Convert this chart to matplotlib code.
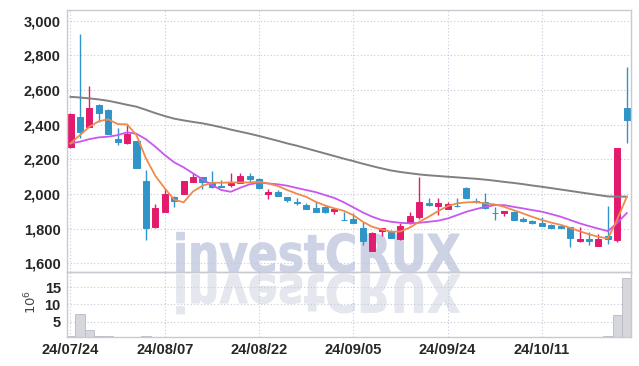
import numpy as np
import matplotlib
matplotlib.use('Agg')
import matplotlib.pyplot as plt
from matplotlib.ticker import FuncFormatter
from matplotlib.textpath import TextPath
from matplotlib.patches import PathPatch
from matplotlib.path import Path
from matplotlib.font_manager import FontProperties

# daily candles, 60 trading days from 24/07/24
opens = [2273, 2442, 2388, 2513, 2485, 2316, 2292, 2306, 2075, 1807,
         1894, 1984, 1998, 2071, 2096, 2067, 2047, 2053, 2061, 2104,
         2085, 2001, 2011, 1982, 1952, 1936, 1919, 1923, 1900, 1852,
         1854, 1802, 1671, 1788, 1786, 1738, 1830, 1869, 1950, 1932,
         1915, 1932, 2036, 1959, 1956, 1893, 1888, 1898, 1856, 1846,
         1834, 1821, 1818, 1807, 1730, 1738, 1701, 1757, 1734, 2498]
highs = [2465, 2921, 2625, 2518, 2492, 2379, 2406, 2306, 2136, 1940,
         2027, 1990, 2075, 2119, 2100, 2132, 2081, 2119, 2123, 2123,
         2094, 2027, 2024, 1985, 1975, 1946, 1952, 1930, 1919, 1894,
         1892, 1840, 1780, 1805, 1792, 1834, 1896, 2100, 1979, 1975,
         1955, 1975, 2042, 1975, 2004, 1923, 1902, 1902, 1867, 1850,
         1869, 1825, 1822, 1810, 1807, 1782, 1769, 1930, 2265, 2731]
lows = [2263, 2321, 2385, 2417, 2346, 2283, 2290, 2152, 1734, 1805,
        1894, 1923, 1998, 2068, 2027, 2035, 2040, 2042, 2061, 2071,
        2030, 1971, 1988, 1952, 1938, 1913, 1896, 1888, 1886, 1848,
        1832, 1705, 1669, 1759, 1746, 1736, 1826, 1855, 1933, 1879,
        1913, 1928, 1977, 1950, 1915, 1850, 1875, 1848, 1840, 1829,
        1815, 1803, 1803, 1692, 1725, 1703, 1698, 1709, 1725, 2292]
closes = [2460, 2356, 2494, 2469, 2346, 2302, 2344, 2152, 1805, 1917,
          1998, 1961, 2075, 2096, 2071, 2040, 2042, 2065, 2104, 2085,
          2033, 2013, 1990, 1967, 1948, 1915, 1898, 1898, 1911, 1848,
          1834, 1730, 1776, 1802, 1748, 1815, 1873, 1953, 1935, 1946,
          1942, 1929, 1979, 1952, 1917, 1891, 1902, 1850, 1845, 1831,
          1817, 1806, 1806, 1746, 1738, 1728, 1742, 1742, 2263, 2427]

# volume in millions
volume = [0.8, 7.2, 2.5, 0.8, 0.8, 0.2, 0.2, 0.2, 0.8, 0.2,
          0.2, 0.2, 0.2, 0.2, 0.2, 0.2, 0.2, 0.2, 0.2, 0.2,
          0.2, 0.2, 0.2, 0.2, 0.2, 0.2, 0.2, 0.2, 0.2, 0.2,
          0.2, 0.2, 0.2, 0.2, 0.2, 0.2, 0.2, 0.2, 0.2, 0.2,
          0.2, 0.2, 0.2, 0.2, 0.2, 0.2, 0.2, 0.2, 0.2, 0.2,
          0.2, 0.2, 0.2, 0.2, 0.2, 0.2, 0.3, 0.8, 7.0, 17.7]

# moving averages
ma_short = [2292, 2340, 2388, 2420, 2431, 2404, 2402, 2340, 2206, 2105,
            2033, 1968, 1952, 2015, 2048, 2065, 2065, 2067, 2067, 2067,
            2071, 2061, 2046, 2023, 2002, 1984, 1955, 1934, 1917, 1903,
            1878, 1840, 1811, 1796, 1782, 1784, 1807, 1840, 1869, 1902,
            1930, 1946, 1952, 1954, 1946, 1940, 1926, 1907, 1888, 1868,
            1850, 1835, 1822, 1805, 1785, 1768, 1753, 1744, 1855, 1984]
ma_mid = [2292, 2302, 2317, 2327, 2331, 2340, 2356, 2348, 2316, 2273,
          2225, 2183, 2154, 2119, 2085, 2052, 2023, 2013, 2036, 2056,
          2065, 2061, 2056, 2048, 2035, 2023, 2011, 1994, 1977, 1952,
          1923, 1894, 1869, 1850, 1840, 1834, 1831, 1834, 1840, 1846,
          1859, 1878, 1898, 1913, 1926, 1936, 1936, 1926, 1917, 1907,
          1898, 1884, 1869, 1850, 1831, 1815, 1800, 1786, 1834, 1890]
ma_long = [2561, 2557, 2552, 2546, 2538, 2527, 2515, 2504, 2486, 2467,
           2450, 2435, 2425, 2416, 2408, 2397, 2385, 2372, 2360, 2348,
           2335, 2321, 2307, 2292, 2279, 2264, 2249, 2234, 2219, 2204,
           2190, 2175, 2161, 2148, 2136, 2127, 2120, 2113, 2108, 2104,
           2100, 2096, 2092, 2088, 2083, 2077, 2070, 2064, 2057, 2049,
           2042, 2034, 2026, 2018, 2010, 2002, 1994, 1986, 1985, 1985]

tick_pos = [0, 10, 20, 30, 40, 50]
tick_labels = ['24/07/24', '24/08/07', '24/08/22', '24/09/05', '24/09/24', '24/10/11']

UP = '#e31b6d'
DOWN = '#2f95c8'
GRID = '#c6c9da'
SPINE = '#c9c9d2'
TXT = '#262626'
FONT = ['Liberation Sans', 'DejaVu Sans']

W, H = 639, 366
fig = plt.figure(figsize=(W / 100, H / 100), dpi=100)
ax = fig.add_axes([67 / W, 1 - 272 / H, 564 / W, 262.5 / H])
axv = fig.add_axes([67 / W, 1 - 337 / H, 564 / W, 65 / H], sharex=ax)
for a in (ax, axv):
    a.set_facecolor('none')

# watermark text with mirrored copy underneath
tp = TextPath((0, 0), 'investCRUX', size=100, prop=FontProperties(family='DejaVu Sans', weight='bold'))
bb = tp.get_extents()
sx = 283 / bb.width
sy = 40 / bb.height
x0, base = 176.7, H - 271.7
v = tp.vertices.copy()
top = np.column_stack([(x0 + (v[:, 0] - bb.x0) * sx) / W, (base + v[:, 1] * sy) / H])
bot = np.column_stack([(x0 + (v[:, 0] - bb.x0) * sx) / W, (base - 3 - v[:, 1] * sy) / H])
fig.add_artist(PathPatch(Path(top, tp.codes), transform=fig.transFigure,
                         facecolor='#cdd3e5', edgecolor='#cdd3e5', linewidth=0.8, zorder=-2))
fig.add_artist(PathPatch(Path(bot, tp.codes), transform=fig.transFigure,
                         facecolor='#e5e7ef', edgecolor='#e5e7ef', linewidth=0.8, zorder=-2))

idx = np.arange(len(closes))
o = np.array(opens)
c = np.array(closes)
colors = [UP if cc >= oo else DOWN for oo, cc in zip(o, c)]

ax.vlines(idx, lows, highs, colors=colors, linewidth=1.0, zorder=2)
ax.bar(idx, np.abs(c - o), bottom=np.minimum(o, c), width=0.64,
       color=colors, edgecolor=colors, linewidth=0.7, zorder=2)

ax.plot(idx, ma_long, color='#808080', linewidth=1.4, zorder=3)
ax.plot(idx, ma_mid, color='#c957ee', linewidth=1.3, zorder=3)
ax.plot(idx, ma_short, color='#f08a4c', linewidth=1.3, zorder=3)

axv.bar(idx, volume, width=1.0, color='#d6d6dd', edgecolor='#b9b9c2', linewidth=0.6)

ax.set_xlim(-0.37, 59.45)
ax.set_ylim(1550, 3065)
ax.set_yticks(range(1600, 3001, 200))
ax.yaxis.set_major_formatter(FuncFormatter(lambda y, p: f'{int(y):,}'))
axv.set_ylim(0.5, 19.4)
axv.set_yticks([5, 10, 15])
axv.set_xticks(tick_pos)
axv.set_xticklabels(tick_labels)
ax.tick_params(axis='x', labelbottom=False)

for a in (ax, axv):
    a.grid(True, linestyle=(0, (1, 2)), color=GRID, linewidth=0.8)
    a.set_axisbelow(True)
    a.tick_params(length=0, labelsize=10.5, colors=TXT, pad=4.5)
    for lab in a.get_xticklabels() + a.get_yticklabels():
        lab.set_family(FONT)
        lab.set_fontweight('bold')
    for s in a.spines.values():
        s.set_color(SPINE)
        s.set_linewidth(1.0)

fig.text(31 / W, 1 - 302 / H, '$10^6$', rotation=90, ha='center', va='center',
         fontsize=9.5, color='#444444')

fig.savefig('out.png', dpi=100)
